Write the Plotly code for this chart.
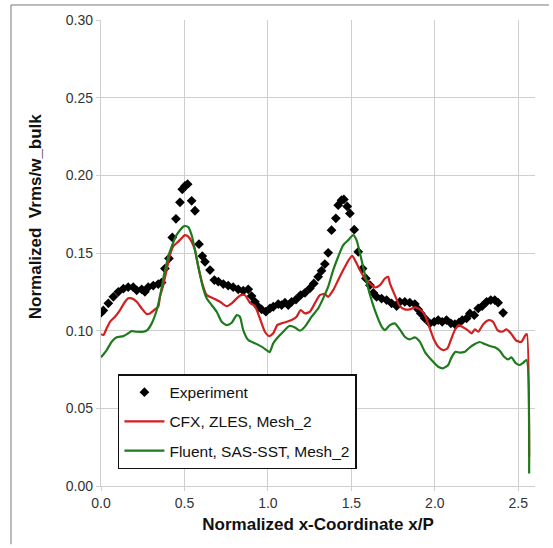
import plotly.graph_objects as go

# Experiment
exp_x = [0.000, 0.014, 0.044, 0.074, 0.104, 0.134, 0.163, 0.193, 0.214, 0.244, 0.263, 0.283,
         0.313, 0.343, 0.363, 0.383, 0.407, 0.427, 0.449, 0.473, 0.487, 0.503, 0.519, 0.543,
         0.563, 0.587, 0.607, 0.623, 0.653, 0.679, 0.703, 0.733, 0.762, 0.792, 0.822, 0.852,
         0.882, 0.902, 0.922, 0.942, 0.962, 0.988, 1.012, 1.032, 1.062, 1.082, 1.102, 1.122,
         1.142, 1.168, 1.196, 1.222, 1.251, 1.275, 1.301, 1.321, 1.341, 1.361, 1.381, 1.407,
         1.421, 1.441, 1.455, 1.475, 1.491, 1.517, 1.541, 1.567, 1.587, 1.611, 1.631, 1.651,
         1.681, 1.711, 1.741, 1.771, 1.790, 1.820, 1.850, 1.880, 1.900, 1.916, 1.940, 1.970,
         1.996, 2.020, 2.044, 2.070, 2.096, 2.120, 2.144, 2.164, 2.190, 2.210, 2.236, 2.260,
         2.284, 2.310, 2.335, 2.359, 2.379, 2.409]
exp_y = [0.1115, 0.1130, 0.1176, 0.1218, 0.1250, 0.1270, 0.1280, 0.1280, 0.1260, 0.1266, 0.1250, 0.1280,
         0.1290, 0.1300, 0.1310, 0.1400, 0.1465, 0.1600, 0.1720, 0.1826, 0.1910, 0.1932, 0.1943, 0.1836,
         0.1772, 0.1557, 0.1480, 0.1443, 0.1390, 0.1326, 0.1315, 0.1300, 0.1290, 0.1280, 0.1266, 0.1257,
         0.1266, 0.1223, 0.1186, 0.1154, 0.1137, 0.1122, 0.1143, 0.1154, 0.1171, 0.1165, 0.1180, 0.1165,
         0.1186, 0.1200, 0.1229, 0.1244, 0.1272, 0.1304, 0.1347, 0.1385, 0.1429, 0.1501, 0.1647, 0.1723,
         0.1808, 0.1840, 0.1845, 0.1800, 0.1755, 0.1650, 0.1508, 0.1400, 0.1336, 0.1293, 0.1244, 0.1218,
         0.1207, 0.1197, 0.1176, 0.1158, 0.1186, 0.1186, 0.1180, 0.1171, 0.1137, 0.1111, 0.1079, 0.1047,
         0.1057, 0.1068, 0.1057, 0.1068, 0.1047, 0.1042, 0.1051, 0.1068, 0.1079, 0.1111, 0.1100, 0.1143,
         0.1158, 0.1186, 0.1197, 0.1197, 0.1180, 0.1115]

# CFX, ZLES, Mesh_2
cfx_x = [0.000, 0.014, 0.034, 0.054, 0.084, 0.114, 0.144, 0.163, 0.184, 0.214, 0.244, 0.274,
         0.293, 0.323, 0.343, 0.353, 0.373, 0.393, 0.413, 0.433, 0.463, 0.487, 0.503, 0.523,
         0.543, 0.563, 0.583, 0.607, 0.633, 0.673, 0.713, 0.753, 0.783, 0.813, 0.838, 0.862,
         0.892, 0.922, 0.952, 0.982, 1.008, 1.032, 1.056, 1.082, 1.112, 1.142, 1.172, 1.196,
         1.222, 1.251, 1.281, 1.311, 1.341, 1.361, 1.391, 1.421, 1.451, 1.481, 1.505, 1.527,
         1.551, 1.581, 1.611, 1.641, 1.671, 1.701, 1.720, 1.731, 1.760, 1.790, 1.820, 1.850,
         1.880, 1.910, 1.940, 1.970, 1.996, 2.020, 2.050, 2.076, 2.096, 2.120, 2.144, 2.170,
         2.196, 2.220, 2.240, 2.260, 2.290, 2.323, 2.349, 2.375, 2.403, 2.429, 2.455, 2.489,
         2.519, 2.543, 2.551, 2.565]
cfx_y = [0.0978, 0.0972, 0.1015, 0.1057, 0.1090, 0.1133, 0.1186, 0.1208, 0.1208, 0.1186, 0.1143, 0.1107,
         0.1111, 0.1137, 0.1154, 0.1218, 0.1293, 0.1390, 0.1486, 0.1544, 0.1573, 0.1600, 0.1615, 0.1605,
         0.1573, 0.1519, 0.1411, 0.1304, 0.1229, 0.1208, 0.1186, 0.1158, 0.1176, 0.1208, 0.1229, 0.1229,
         0.1180, 0.1158, 0.1079, 0.0993, 0.0965, 0.0983, 0.1036, 0.1047, 0.1057, 0.1068, 0.1090, 0.1133,
         0.1111, 0.1122, 0.1176, 0.1229, 0.1236, 0.1218, 0.1261, 0.1326, 0.1390, 0.1450, 0.1482, 0.1443,
         0.1390, 0.1336, 0.1304, 0.1278, 0.1293, 0.1336, 0.1347, 0.1304, 0.1229, 0.1158, 0.1137, 0.1137,
         0.1150, 0.1137, 0.1100, 0.1015, 0.0940, 0.0897, 0.0875, 0.0887, 0.0940, 0.1004, 0.1036, 0.1021,
         0.1004, 0.0983, 0.1008, 0.0993, 0.1042, 0.1068, 0.1057, 0.1004, 0.0993, 0.1008, 0.0983, 0.0935,
         0.0929, 0.0972, 0.0978, 0.0189]

# Fluent, SAS-SST, Mesh_2
flu_x = [0.000, 0.034, 0.064, 0.094, 0.134, 0.163, 0.184, 0.214, 0.253, 0.277, 0.304, 0.334,
         0.357, 0.377, 0.393, 0.403, 0.423, 0.447, 0.473, 0.499, 0.523, 0.543, 0.563, 0.583,
         0.607, 0.633, 0.663, 0.693, 0.723, 0.753, 0.783, 0.813, 0.832, 0.852, 0.882, 0.922,
         0.962, 0.992, 1.010, 1.032, 1.062, 1.092, 1.128, 1.162, 1.192, 1.222, 1.262, 1.301,
         1.331, 1.361, 1.391, 1.421, 1.451, 1.481, 1.511, 1.531, 1.551, 1.575, 1.601, 1.627,
         1.655, 1.681, 1.701, 1.731, 1.760, 1.790, 1.820, 1.850, 1.880, 1.910, 1.940, 1.980,
         2.020, 2.050, 2.080, 2.100, 2.124, 2.150, 2.180, 2.210, 2.240, 2.269, 2.299, 2.329,
         2.359, 2.389, 2.415, 2.439, 2.459, 2.483, 2.509, 2.529, 2.549, 2.565]
flu_y = [0.0828, 0.0875, 0.0929, 0.0957, 0.0965, 0.0983, 0.0997, 0.0993, 0.0993, 0.1004, 0.1047, 0.1133,
         0.1240, 0.1358, 0.1433, 0.1480, 0.1540, 0.1605, 0.1647, 0.1673, 0.1667, 0.1615, 0.1519, 0.1411,
         0.1293, 0.1208, 0.1165, 0.1122, 0.1057, 0.1036, 0.1051, 0.1100, 0.1090, 0.1004, 0.0940, 0.0919,
         0.0897, 0.0875, 0.0862, 0.0919, 0.0961, 0.0993, 0.1030, 0.1021, 0.1000, 0.1026, 0.1090, 0.1143,
         0.1208, 0.1283, 0.1390, 0.1476, 0.1551, 0.1583, 0.1615, 0.1583, 0.1500, 0.1390, 0.1272, 0.1176,
         0.1090, 0.1026, 0.1004, 0.1036, 0.1047, 0.1008, 0.0961, 0.0944, 0.0957, 0.0929, 0.0864, 0.0811,
         0.0768, 0.0758, 0.0779, 0.0828, 0.0864, 0.0858, 0.0864, 0.0893, 0.0914, 0.0927, 0.0914, 0.0901,
         0.0893, 0.0871, 0.0832, 0.0815, 0.0828, 0.0793, 0.0779, 0.0793, 0.0811, 0.0080]

x_ticks = [0.0, 0.5, 1.0, 1.5, 2.0, 2.5]
y_ticks = [0.00, 0.05, 0.10, 0.15, 0.20, 0.25, 0.30]

FONT = "Liberation Sans, Arial, sans-serif"
GRID = "#cfcfcf"
FRAME = "#7a7a7a"

fig = go.Figure()
fig.add_trace(go.Scatter(
    x=exp_x, y=exp_y, mode="markers", name="Experiment", legendgroup="a",
    marker=dict(symbol="diamond", size=7.5, color="black"),
))
fig.add_trace(go.Scatter(
    x=cfx_x, y=cfx_y, mode="lines", name="CFX, ZLES, Mesh_2", legendgroup="b",
    line=dict(color="#d21f1f", width=2.2, shape="spline", smoothing=0.6),
))
fig.add_trace(go.Scatter(
    x=flu_x, y=flu_y, mode="lines", name="Fluent, SAS-SST, Mesh_2", legendgroup="c",
    line=dict(color="#1d7a1d", width=2.2, shape="spline", smoothing=0.6),
))

fig.update_layout(
    width=553, height=548,
    margin=dict(l=101, r=18, t=20, b=62),
    paper_bgcolor="white", plot_bgcolor="white",
    font=dict(family=FONT, color="#333333", size=14),
    showlegend=True,
    legend=dict(
        x=0.039, y=0.240, xanchor="left", yanchor="top",
        bgcolor="white", bordercolor="#111111", borderwidth=1.5,
        font=dict(family=FONT, size=15.5, color="#111111"),
        tracegroupgap=6, itemwidth=40,
    ),
    xaxis=dict(
        range=[0, 2.6], tickvals=x_ticks, ticktext=[f"{v:.1f}" for v in x_ticks],
        showgrid=True, gridcolor=GRID, gridwidth=1.3, zeroline=False,
        showline=True, linecolor=GRID, linewidth=1.3,
        ticks="outside", ticklen=4, tickcolor=GRID,
        tickfont=dict(size=14, color="#333333"),
        title=dict(text="<b>Normalized x-Coordinate x/P</b>", font=dict(size=17, color="#111111"), standoff=8),
    ),
    yaxis=dict(
        range=[0, 0.3], tickvals=y_ticks, ticktext=[f"{v:.2f}" for v in y_ticks],
        showgrid=True, gridcolor=GRID, gridwidth=1.3, zeroline=False,
        showline=True, linecolor=GRID, linewidth=1.3,
        ticks="outside", ticklen=4, tickcolor=GRID,
        tickfont=dict(size=14, color="#333333"),
    ),
    annotations=[dict(
        text="<b>Normalized  Vrms/w_bulk</b>", textangle=-90,
        xref="paper", yref="paper", x=-0.152, y=0.579,
        xanchor="center", yanchor="middle", showarrow=False,
        font=dict(family=FONT, size=17, color="#111111"),
    )],
    # outer frame: one open path along the left and top edges
    shapes=[dict(
        type="path", xref="paper", yref="paper",
        path="M -0.2074,-0.125 L -0.2074,1.0322 L 1.032,1.0322",
        line=dict(color=FRAME, width=1), fillcolor="rgba(0,0,0,0)",
    )],
)

fig.write_html("out.html")
